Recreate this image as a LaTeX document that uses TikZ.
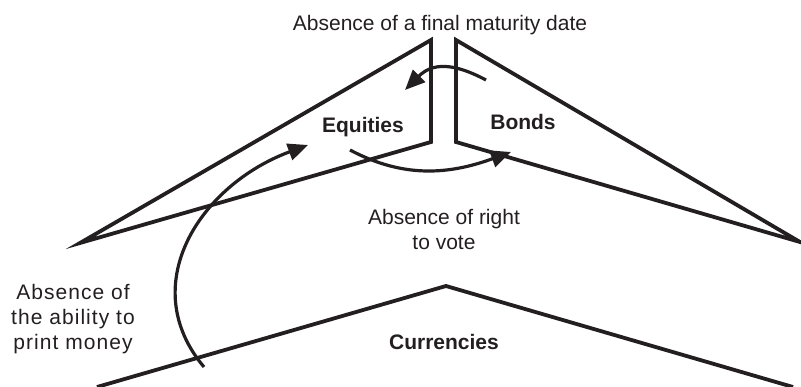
\documentclass[tikz,border=0pt]{standalone}
\usepackage{fontspec}
\setmainfont{Liberation Sans}
\newfontfamily\widefont[LetterSpace=5]{Liberation Sans}
\usetikzlibrary{arrows.meta, calc}
\definecolor{ink}{HTML}{231F20}

\begin{document}
\begin{tikzpicture}[
  x=1pt, y=1pt,
  every node/.style={font=\fontsize{21}{25}\selectfont, text=ink, inner sep=0pt},
  wing/.style={draw=ink, line width=3.8pt, line join=miter},
  arr/.style={-{Triangle[length=20pt, width=17pt]}, draw=ink, line width=3.2pt},
  label/.style={align=center},
  heading/.style={font=\fontsize{21}{25}\selectfont\bfseries},
]
\useasboundingbox (0,0) rectangle (801,-387);

% === EQUITIES (left wing) ===
\coordinate (eqtop) at (431,-40);
\coordinate (eqfoot) at (431,-142);
\coordinate (eqtip) at (80,-243);
\draw[wing] (eqtop) -- (eqtip) -- (eqfoot) -- cycle;
\node[heading, anchor=base] (equities) at (363,-133) {Equities};

% === BONDS (right wing) ===
\coordinate (bdtop) at (456,-40);
\coordinate (bdfoot) at (456,-142);
\coordinate (bdtip) at (800,-242);
\draw[wing] (bdtop) -- (bdtip) -- (bdfoot) -- cycle;
\node[heading, anchor=base] (bonds) at (523,-130) {Bonds};

% === CURRENCIES (bottom) ===
\coordinate (culeft) at (97,-387);
\coordinate (cuapex) at (446,-286);
\coordinate (curight) at (793,-387);
\draw[wing] (culeft) -- (cuapex) -- (curight);
\node[heading, anchor=base] (currencies) at (444,-350) {Currencies};

% Labels
\node[anchor=base] (maturity) at (440,-31) {Absence of a final maturity date};
\node[label] (vote) at (444,-229) {Absence of right\\to vote};
\node[label, font=\fontsize{21}{25}\widefont] (money) at (73,-319)
  {Absence of\\the ability to\\print money};

% Arrows between the asset classes
\coordinate (bd2eqs) at (486,-80);
\coordinate (bd2eqe) at (405,-90);
\draw[arr] (bd2eqs) to[out=152, in=45, looseness=1.2] (bd2eqe);

\coordinate (eq2bds) at (350,-150);
\coordinate (eq2bde) at (511,-152);
\draw[arr] (eq2bds) to[out=-28, in=200] (eq2bde);

\coordinate (cu2eqs) at (204,-367);
\coordinate (cu2eqe) at (308,-145);
\draw[arr] (cu2eqs) .. controls (135,-285) and (200,-185) .. (cu2eqe);

\end{tikzpicture}
\end{document}
